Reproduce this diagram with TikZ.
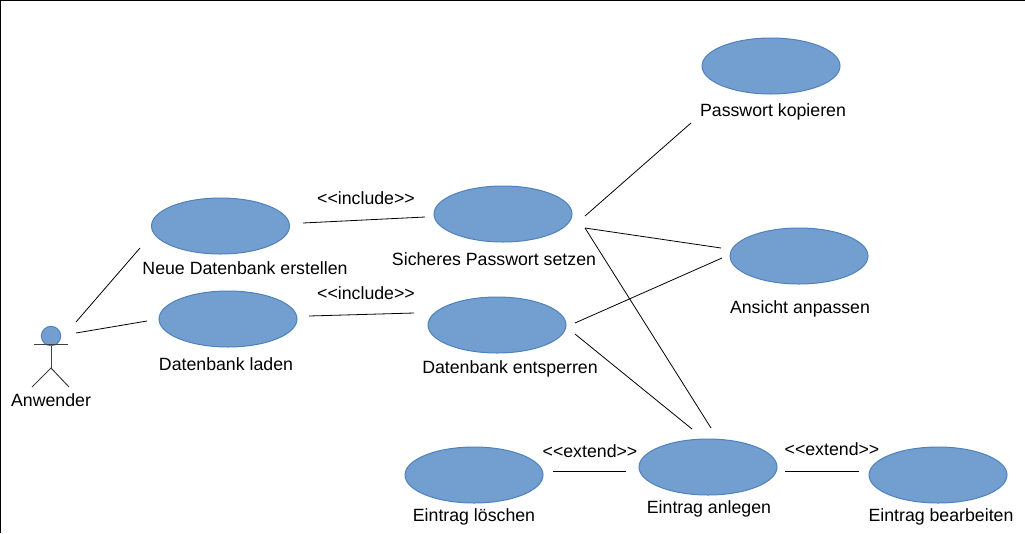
\documentclass[tikz,border=0pt]{standalone}
\usepackage{fontspec}
\setmainfont{Liberation Sans}
\usetikzlibrary{shapes.geometric}
\tikzset{
  uc/.style={ellipse,draw=ucedge,fill=ucfill,line width=0.75pt,minimum width=103.5pt,minimum height=42pt,inner sep=0pt},
  lbl/.style={inner sep=0pt,font=\fontsize{13.3}{15}\selectfont,text=black},
  conn/.style={draw=black,line width=0.6pt},
  stick/.style={draw=black!75,line width=0.75pt},
}
\definecolor{ucfill}{HTML}{729FD0}
\definecolor{ucedge}{HTML}{4F81BD}
\begin{document}
\begin{tikzpicture}[x=0.75pt,y=-0.75pt]
\useasboundingbox (0,0) rectangle (1025,533);
\fill[white] (0,0) rectangle (1025,533);
\draw[black,line width=1.2pt] (0.5,533) -- (0.5,0.5) -- (1025,0.5);
% use cases
\node[uc] (kop) at (771,66) {};
\node[uc] (ans) at (799,256) {};
\node[uc] (sich) at (503,214) {};
\node[uc] (neu) at (220.5,226) {};
\node[uc] (lad) at (228,319) {};
\node[uc] (ent) at (497,325) {};
\node[uc] (anl) at (708,467) {};
\node[uc] (los) at (474,475) {};
\node[uc] (bea) at (938,475) {};
% labels
\node[lbl] (tkop) at (773,111.5) {Passwort kopieren};
\node[lbl] (tans) at (800,308.5) {Ansicht anpassen};
\node[lbl] (tsich) at (494,259.5) {Sicheres Passwort setzen};
\node[lbl] (tneu) at (245,268.5) {Neue Datenbank erstellen};
\node[lbl] (tlad) at (226,364.5) {Datenbank laden};
\node[lbl] (tent) at (510,368.5) {Datenbank entsperren};
\node[lbl] (tanl) at (709,508.5) {Eintrag anlegen};
\node[lbl] (tlos) at (474,516.5) {Eintrag löschen};
\node[lbl] (tbea) at (941,516.5) {Eintrag bearbeiten};
\node[lbl] (tact) at (51,400.5) {Anwender};
\node[lbl] (inc1) at (366,198) {<{}<include>{}>};
\node[lbl] (inc2) at (366,293) {<{}<include>{}>};
\node[lbl] (ext1) at (590,451) {<{}<extend>{}>};
\node[lbl] (ext2) at (832,449) {<{}<extend>{}>};
% actor
\node[circle,draw=ucedge,fill=ucfill,line width=0.75pt,minimum size=14.5pt,inner sep=0pt] (head) at (51,336) {};
\coordinate (armL) at (34,344.5);
\coordinate (armR) at (68,344.5);
\coordinate (hip) at (51,368);
\coordinate (footL) at (32,387);
\coordinate (footR) at (69,387);
\draw[stick] (armL) -- (armR);
\draw[stick] (head.south) -- (hip);
\draw[stick] (footL) -- (hip) -- (footR);
% connector ends
\coordinate (a1) at (76,322); \coordinate (n1) at (140,248);
\coordinate (a2) at (76,333); \coordinate (l1) at (147,321);
\coordinate (n2) at (303,223); \coordinate (s1) at (425,217);
\coordinate (l2) at (309,316); \coordinate (e1) at (414,313);
\coordinate (s2) at (585,216); \coordinate (k1) at (691,123);
\coordinate (s3) at (585,228); \coordinate (an1) at (721,248);
\coordinate (an2) at (711,428);
\coordinate (e2) at (575,323); \coordinate (an3) at (722,258);
\coordinate (e3) at (575,334); \coordinate (an4) at (692,429);
\coordinate (lo1) at (553,471); \coordinate (ag1) at (626,471);
\coordinate (ag2) at (785,471); \coordinate (b1) at (859,471);
% connectors
\draw[conn] (a1) -- (n1);
\draw[conn] (a2) -- (l1);
\draw[conn] (n2) -- (s1);
\draw[conn] (l2) -- (e1);
\draw[conn] (s2) -- (k1);
\draw[conn] (s3) -- (an1);
\draw[conn] (s3) -- (an2);
\draw[conn] (e2) -- (an3);
\draw[conn] (e3) -- (an4);
\draw[conn] (lo1) -- (ag1);
\draw[conn] (ag2) -- (b1);
\end{tikzpicture}
\end{document}
